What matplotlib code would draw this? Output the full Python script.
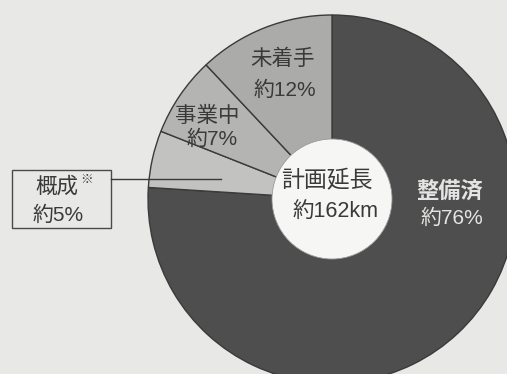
import matplotlib
matplotlib.use("Agg")
import matplotlib.pyplot as plt
from matplotlib.patches import Circle, Rectangle

plt.rcParams["font.family"] = ["Noto Sans CJK JP", "DejaVu Sans"]
NUM_FONT = ["Liberation Sans", "Noto Sans CJK JP"]

# 道路整備状況（計画延長に対する割合、%）
categories = ["整備済", "概成", "事業中", "未着手"]
shares = [76, 5, 7, 12]
total_label = ["計画延長", "約162km"]

slice_colors = ["#4e4e4e", "#c2c2c0", "#b4b4b2", "#ababa9"]
BG = "#e8e8e6"

W, H = 507, 374
CX, CY, R = 332, 199, 184  # pie centre and radius in pixels


def px(x, y):
    """Pixel position (from top-left) -> data coordinates (radius = 1)."""
    return (x - CX) / R, (CY - y) / R


fig = plt.figure(figsize=(W / 100, H / 100), dpi=100, facecolor=BG)
ax = fig.add_axes([0, 0, 1, 1])
ax.set_facecolor(BG)

wedges, _ = ax.pie(
    shares, colors=slice_colors, startangle=90, counterclock=False,
    radius=1.0, center=(0, 0), frame=True,
    wedgeprops=dict(edgecolor="#3a3a3a", linewidth=1.0),
)
ax.set_xlim(-CX / R, (W - CX) / R)
ax.set_ylim(-(H - CY) / R, CY / R)
ax.set_aspect("auto")
ax.axis("off")

# white centre
ax.add_patch(Circle((0, 0), 60 / R, facecolor="#f6f6f4", edgecolor="#9a9a9a",
                    linewidth=0.6, zorder=5))

txt = "#3a3a3a"
light = "#e4e4e2"


def label(x, y, s, size, color=txt, num=False, **kw):
    ax.text(*px(x, y), s, ha="center", va="center", fontsize=size, color=color,
            family=NUM_FONT if num else None, zorder=6, **kw)


label(327, 181, total_label[0], 16.5)
label(335, 212, total_label[1], 15.5, num=True)

label(450, 191, categories[0], 16, color=light, fontweight="bold")
label(452, 218, f"約{shares[0]}%", 15, color=light, num=True)

label(283, 59, categories[3], 15.5)
label(285, 90, f"約{shares[3]}%", 15, num=True)

label(207, 116, categories[2], 15.5)
label(212, 139, f"約{shares[2]}%", 15, num=True)

# callout box for the small slice
x0, y0 = px(12, 228)
x1, y1 = px(111, 170)
ax.add_patch(Rectangle((x0, y0), x1 - x0, y1 - y0, facecolor=BG,
                       edgecolor="#4a4a4a", linewidth=1.0))
ax.plot([x1, px(221, 179)[0]], [px(0, 179)[1]] * 2, color="#3a3a3a", lw=1.0)
label(57, 187, categories[1], 15.5)
label(87, 180, "※", 9)
label(58, 215, f"約{shares[1]}%", 15, num=True)

fig.savefig("out.png", dpi=100, facecolor=BG)
